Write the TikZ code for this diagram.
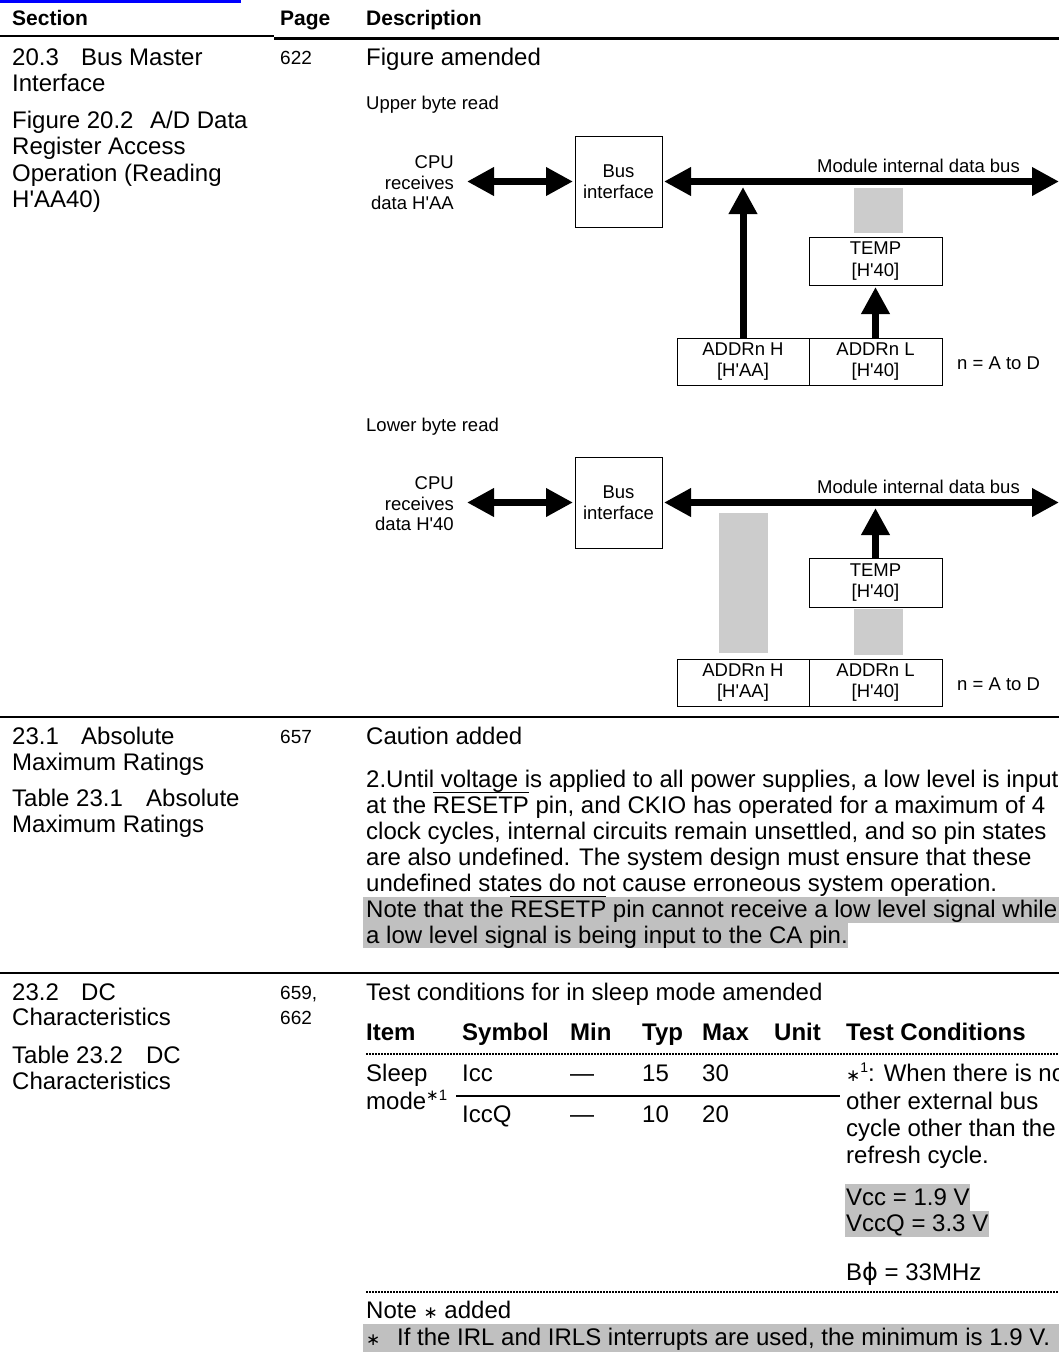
\documentclass[tikz,border=0pt]{standalone}
\usepackage{fontspec}
\setmainfont{Liberation Sans}
\newfontfamily\dejavu{DejaVu Sans}
\usetikzlibrary{arrows.meta}
\definecolor{hlgray}{RGB}{192,192,192}
\definecolor{bargray}{RGB}{204,204,204}
\definecolor{linkblue}{RGB}{0,0,255}
\newsavebox\ovbox
\newcommand\ovl[1]{\sbox\ovbox{#1}\rlap{\rule[\dimexpr\ht\ovbox+2.8pt\relax]{\wd\ovbox}{1.3pt}}\usebox\ovbox}
\newcommand\sq{\textquotesingle}
\begin{document}
\begin{tikzpicture}[x=1pt,y=-1pt,
  txt/.style={anchor=base west, inner sep=0pt, font=\fontsize{24}{26.5}\selectfont},
  hdr/.style={anchor=base west, inner sep=0pt, font=\fontsize{21}{24}\selectfont\bfseries},
  tbh/.style={anchor=base west, inner sep=0pt, font=\fontsize{24}{26}\selectfont\bfseries},
  pg/.style={anchor=base west, inner sep=0pt, font=\fontsize{19}{25}\selectfont},
  small/.style={anchor=base west, inner sep=0pt, font=\fontsize{18.5}{21}\selectfont},
  cpulbl/.style={anchor=east, inner sep=0pt, align=right, font=\fontsize{18.5}{20.5}\selectfont},
  dbox/.style={draw, line width=1pt, fill=white, inner sep=0pt, align=center, font=\fontsize{18.5}{21.5}\selectfont},
  fat/.style={line width=7pt, -{Triangle[length=27pt,width=27pt]}},
  fatboth/.style={line width=7pt, {Triangle[length=27pt,width=27pt]}-{Triangle[length=27pt,width=27pt]}},
  bar/.style={fill=bargray, draw=none},
  hl/.style={fill=hlgray, draw=none},
  rowline/.style={line width=2pt},
  dotline/.style={line width=1.2pt, dash pattern=on 1.5pt off 1.5pt}
]
\useasboundingbox (0,0) rectangle (1059,1358);
\clip (0,0) rectangle (1059,1358);

% ---------- header ----------
\fill[linkblue] (0,0) rectangle (241,2.5);
\node[hdr] (hSec) at (12,25) {Section};
\node[hdr] (hPage) at (280,25) {Page};
\node[hdr] (hDesc) at (366,25) {Description};
\draw[line width=1.5pt] (0,36) -- (274,36);
\draw[line width=3.3pt] (274,38.3) -- (1059,38.3);

% ---------- row 1 ----------
\node[txt] (s1a) at (12,65) {\makebox[69pt][l]{20.3}Bus Master};
\node[txt] (s1b) at (12,91.5) {Interface};
\node[txt] (s1c) at (12,128) {\makebox[138pt][l]{Figure 20.2}A/D Data};
\node[txt] (s1d) at (12,154.5) {Register Access};
\node[txt] (s1e) at (12,181) {Operation (Reading};
\node[txt] (s1f) at (12,207.5) {H\sq AA40)};
\node[pg] (p1) at (280,64) {622};
\node[txt] (d1) at (366,65) {Figure amended};
\node[small] (upr) at (366,109) {Upper byte read};
\node[small] (lwr) at (366,431) {Lower byte read};

% upper diagram
\node[cpulbl] (cpuA) at (454,183) {CPU\\receives\\data H\sq AA};
\node[dbox, minimum width=87pt, minimum height=91pt] (biA) at (618.5,181.5) {Bus\\interface};
\coordinate (cpuTipA) at (467,181.5);
\coordinate (busEndA) at (1059,181.5);
\coordinate (busBotA) at (0,187);
\draw[fatboth, shorten >=1.5pt] (cpuTipA) -- (biA.west);
\draw[fatboth, shorten <=1.5pt] (biA.east) -- (busEndA);
\node[small] (mbA) at (817,172) {Module internal data bus};
\node[dbox, minimum width=133pt, minimum height=48pt] (tempA) at (875.5,261) {TEMP\\{[H\sq 40]}};
\node[dbox, minimum width=132pt, minimum height=47pt] (ahA) at (743,361.5) {ADDRn H\\{[H\sq AA]}};
\node[dbox, minimum width=133pt, minimum height=47pt] (alA) at (875.5,361.5) {ADDRn L\\{[H\sq 40]}};
\node[small] (nA) at (957,369) {n = A to D};
\fill[bar] (854,188) rectangle (903,233);
\draw[fat] (ahA.north) -- (ahA.north |- busBotA);
\draw[fat, shorten >=1.5pt] (alA.north) -- (tempA.south);

% lower diagram
\node[cpulbl] (cpuB) at (454,504) {CPU\\receives\\data H\sq 40};
\node[dbox, minimum width=87pt, minimum height=91pt] (biB) at (618.5,502.5) {Bus\\interface};
\coordinate (cpuTipB) at (467,502.5);
\coordinate (busEndB) at (1059,502.5);
\coordinate (busBotB) at (0,508);
\draw[fatboth, shorten >=1.5pt] (cpuTipB) -- (biB.west);
\draw[fatboth, shorten <=1.5pt] (biB.east) -- (busEndB);
\node[small] (mbB) at (817,493) {Module internal data bus};
\node[dbox, minimum width=133pt, minimum height=49pt] (tempB) at (875.5,582.5) {TEMP\\{[H\sq 40]}};
\node[dbox, minimum width=132pt, minimum height=47pt] (ahB) at (743,682.5) {ADDRn H\\{[H\sq AA]}};
\node[dbox, minimum width=133pt, minimum height=47pt] (alB) at (875.5,682.5) {ADDRn L\\{[H\sq 40]}};
\node[small] (nB) at (957,690) {n = A to D};
\fill[bar] (719,513) rectangle (768,653);
\fill[bar] (854,609) rectangle (903,655);
\draw[fat] (tempB.north) -- (tempB.north |- busBotB);

\draw[rowline] (0,717) -- (1059,717);

% ---------- row 2 ----------
\node[txt] (s2a) at (12,744) {\makebox[69pt][l]{23.1}Absolute};
\node[txt] (s2b) at (12,770) {Maximum Ratings};
\node[txt] (s2c) at (12,806) {\makebox[134pt][l]{Table 23.1}Absolute};
\node[txt] (s2d) at (12,832) {Maximum Ratings};
\node[pg] (p2) at (280,743) {657};
\node[txt] (d2) at (366,744) {Caution added};
\fill[hl] (363,897) rectangle (1059,922.5);
\fill[hl] (363,922.5) rectangle (848,948);
\node[txt] (c1) at (366,787) {2.Until voltage is applied to all power supplies, a low level is input};
\node[txt] (c2) at (366,813) {at the \ovl{RESETP} pin, and CKIO has operated for a maximum of 4};
\node[txt] (c3) at (366,839) {clock cycles, internal circuits remain unsettled, and so pin states};
\node[txt] (c4) at (366,865) {are also undefined. The system design must ensure that these};
\node[txt] (c5) at (366,891) {undefined states do not cause erroneous system operation.};
\node[txt] (c6) at (366,917) {Note that the \ovl{RESETP} pin cannot receive a low level signal while};
\node[txt] (c7) at (366,943) {a low level signal is being input to the CA pin.};

\draw[rowline] (0,973) -- (1059,973);

% ---------- row 3 ----------
\node[txt] (s3a) at (12,1000) {\makebox[69pt][l]{23.2}DC};
\node[txt] (s3b) at (12,1025.5) {Characteristics};
\node[txt] (s3c) at (12,1063) {\makebox[134pt][l]{Table 23.2}DC};
\node[txt] (s3d) at (12,1089) {Characteristics};
\node[pg] (p3a) at (280,999) {659,};
\node[pg] (p3b) at (280,1024.5) {662};
\node[txt] (d3) at (366,1000) {Test conditions for in sleep mode amended};

\node[tbh] (tItem) at (366,1040) {Item};
\node[tbh] (tSym) at (462,1040) {Symbol};
\node[tbh] (tMin) at (570,1040) {Min};
\node[tbh] (tTyp) at (642,1040) {Typ};
\node[tbh] (tMax) at (702,1040) {Max};
\node[tbh] (tUnit) at (774,1040) {Unit};
\node[tbh] (tCond) at (846,1040) {Test Conditions};
\draw[dotline] (366,1054) -- (1059,1054);

\node[txt] (sleep) at (366,1081) {Sleep};
\node[txt] (mode) at (366,1109) {mode\raisebox{9pt}{\fontsize{15}{15}\selectfont{\dejavu ∗}1}};
\node[txt] (icc) at (462,1081) {Icc};
\node[txt] (iccMin) at (570,1081) {—};
\node[txt] (iccTyp) at (642,1081) {15};
\node[txt] (iccMax) at (702,1081) {30};
\draw[line width=1.4pt] (456,1096) -- (840,1096);
\node[txt] (iccq) at (462,1122) {IccQ};
\node[txt] (iccqMin) at (570,1122) {—};
\node[txt] (iccqTyp) at (642,1122) {10};
\node[txt] (iccqMax) at (702,1122) {20};

\node[txt] (k1) at (846,1081) {{\dejavu\fontsize{17}{17}\selectfont ∗}\raisebox{9pt}{\fontsize{14}{14}\selectfont 1}: When there is no};
\node[txt] (k2) at (846,1109) {other external bus};
\node[txt] (k3) at (846,1136) {cycle other than the};
\node[txt] (k4) at (846,1163) {refresh cycle.};
\fill[hl] (845,1184) rectangle (970,1210.5);
\fill[hl] (845,1210.5) rectangle (989,1237);
\node[txt] (k5) at (846,1205) {Vcc = 1.9 V};
\node[txt] (k6) at (846,1231) {VccQ = 3.3 V};
\node[txt] (k7) at (846,1280) {B{\dejavu ϕ} = 33MHz};
\draw[dotline] (366,1292) -- (1059,1292);

\node[txt] (nt) at (366,1318) {Note {\dejavu\fontsize{17}{17}\selectfont ∗} added};
\fill[hl] (363,1324) rectangle (1059,1352);
\node[txt] (nt2) at (366,1345) {\makebox[31pt][l]{\dejavu\fontsize{17}{17}\selectfont ∗}If the IRL and IRLS interrupts are used, the minimum is 1.9 V.};
\end{tikzpicture}
\end{document}
